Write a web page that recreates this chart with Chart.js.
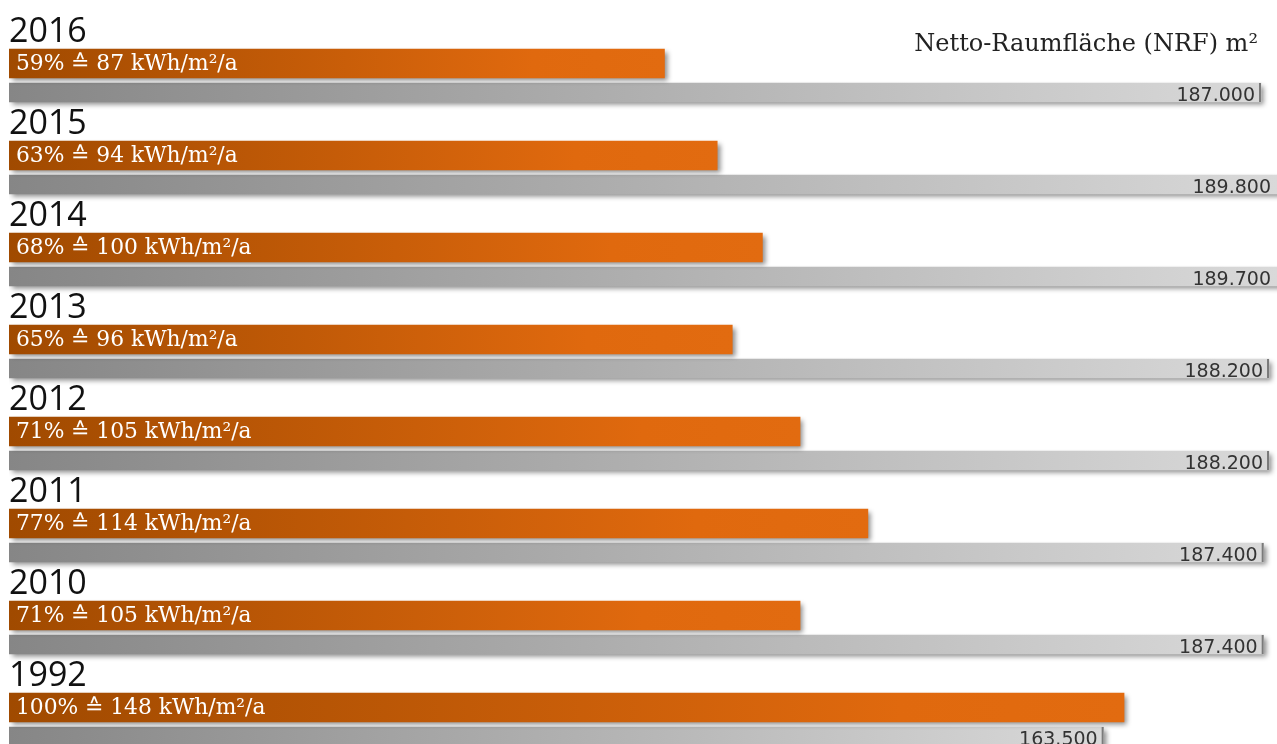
<!DOCTYPE html>
<html>
<head>
<meta charset="utf-8">
<script src="https://cdn.jsdelivr.net/npm/chart.js@4/dist/chart.umd.min.js"></script>
<style>
  html, body { margin: 0; padding: 0; background: #fff; overflow: hidden; }
  #wrap { width: 1277px; height: 744px; overflow: hidden; }
</style>
</head>
<body>
<div id="wrap"><canvas id="energyChart" width="1277" height="800"></canvas></div>
<script>
// Chart values
const years = ['2016', '2015', '2014', '2013', '2012', '2011', '2010', '1992'];
const sharePercent = [59, 63, 68, 65, 71, 77, 71, 100];
const kwhValues = [87, 94, 100, 96, 105, 114, 105, 148];
const areaValues = [187000, 189800, 189700, 188200, 188200, 187400, 187400, 163500];
const areaTitle = 'Netto-Raumfläche (NRF) m²';

// thousands separator with a dot, e.g. 187.000
function formatArea(v) {
    return String(v).replace(/\B(?=(\d{3})+(?!\d))/g, '.');
}

function orangeFill(context) {
    const chart = context.chart;
    const area = chart.chartArea;
    if (!area || context.type !== 'data') return '#d8650f';
    const end = chart.scales.x.getPixelForValue(kwhValues[context.dataIndex]);
    const g = chart.ctx.createLinearGradient(area.left, 0, end, 0);
    g.addColorStop(0, '#a04a00');
    g.addColorStop(0.8, '#e0690e');
    g.addColorStop(1, '#e26b10');
    return g;
}

function grayFill(context) {
    const chart = context.chart;
    const area = chart.chartArea;
    if (!area || context.type !== 'data') return '#b0b0b0';
    const end = Math.min(chart.scales.x2.getPixelForValue(areaValues[context.dataIndex]), area.right);
    const g = chart.ctx.createLinearGradient(area.left, 0, end, 0);
    g.addColorStop(0, '#868686');
    g.addColorStop(1, '#d9d9d9');
    return g;
}

// soft drop shadow under every bar
const barShadow = {
    id: 'barShadow',
    beforeDatasetDraw(chart) {
        const ctx = chart.ctx;
        ctx.save();
        ctx.shadowColor = 'rgba(0, 0, 0, 0.45)';
        ctx.shadowBlur = 5;
        ctx.shadowOffsetX = 3;
        ctx.shadowOffsetY = 3;
    },
    afterDatasetDraw(chart) {
        chart.ctx.restore();
    }
};

// year headings, texts inside the bars and the area title
const barTexts = {
    id: 'barTexts',
    afterDatasetsDraw(chart) {
        const ctx = chart.ctx;
        const area = chart.chartArea;
        const orangeBars = chart.getDatasetMeta(0).data;
        const grayBars = chart.getDatasetMeta(1).data;
        ctx.save();

        years.forEach((year, i) => {
            const ob = orangeBars[i];
            const gb = grayBars[i];
            const oTop = ob.y - ob.height / 2;

            ctx.fillStyle = '#111';
            ctx.font = '34px "Open Sans"';
            ctx.textAlign = 'left';
            ctx.textBaseline = 'alphabetic';
            ctx.fillText(year, 9, oTop - 7);

            ctx.fillStyle = '#fff';
            ctx.font = '21.8px "DejaVu Serif"';
            ctx.textBaseline = 'middle';
            ctx.fillText(sharePercent[i] + '% \u2259 ' + kwhValues[i] + ' kWh/m\u00b2/a', 16, ob.y + 1);

            const end = Math.min(gb.x, area.right);
            if (gb.x < area.right) {
                ctx.fillStyle = '#7a7a7a';
                ctx.fillRect(end - 2, gb.y - gb.height / 2, 2, gb.height);
            }
            ctx.fillStyle = '#333';
            ctx.font = '19px "DejaVu Sans"';
            ctx.textAlign = 'right';
            ctx.textBaseline = 'alphabetic';
            ctx.fillText(formatArea(areaValues[i]), end - 6, gb.y + 8);
        });

        ctx.fillStyle = '#222';
        ctx.font = '24px "DejaVu Serif"';
        ctx.textAlign = 'right';
        ctx.textBaseline = 'alphabetic';
        ctx.fillText(areaTitle, 1258, 51);
        ctx.restore();
    }
};

function renderChart() {
    const ctx = document.getElementById('energyChart').getContext('2d');
    new Chart(ctx, {
        type: 'bar',
        data: {
            labels: years,
            datasets: [{
                label: 'kWh/m²/a',
                data: kwhValues,
                xAxisID: 'x',
                backgroundColor: orangeFill,
                borderWidth: 0,
                barThickness: 35,
                maxBarThickness: 29
            }, {
                label: areaTitle,
                data: areaValues,
                xAxisID: 'x2',
                backgroundColor: grayFill,
                borderWidth: 0,
                barThickness: 23,
                maxBarThickness: 19
            }]
        },
        options: {
            indexAxis: 'y',
            responsive: false,
            animation: false,
            events: [],
            layout: {
                padding: { top: 35, bottom: 29, left: 9, right: 0 }
            },
            plugins: {
                legend: { display: false },
                tooltip: { enabled: false }
            },
            scales: {
                y: { display: false, offset: true, grid: { display: false } },
                x: { display: false, min: 0, max: 168.3 },
                x2: { display: false, min: 0, max: 189390 }
            }
        },
        plugins: [barShadow, barTexts]
    });
}

document.addEventListener('DOMContentLoaded', renderChart);
</script>
</body>
</html>
